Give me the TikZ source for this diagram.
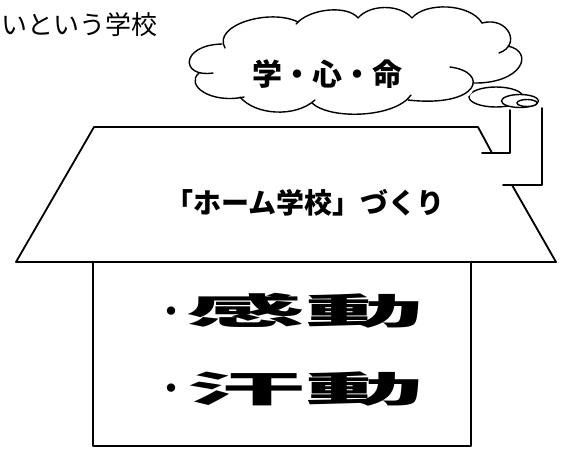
\documentclass[tikz,border=0pt]{standalone}
\usepackage{fontspec}
\usepackage{graphicx}
\newfontfamily\jp{Noto Sans CJK JP}
\tikzset{
  roofline/.style={line width=1.8pt, line cap=round, line join=round},
  cloudline/.style={line width=1.4pt, line cap=round},
  bubble/.style={line width=1.4pt, fill=white},
  bigtext/.style={font=\jp\bfseries\fontsize{36}{36}\selectfont, anchor=west, inner sep=0pt},
}
\newcommand{\smalldot}{\raisebox{2.5pt}{\fontsize{30}{30}\selectfont ・}}
\begin{document}
\begin{tikzpicture}[x=1pt,y=-1pt]
\useasboundingbox (0,0) rectangle (563,448);
\fill[white] (0,0) rectangle (563,448);

% intro text
\node[font=\jp\fontsize{26}{26}\selectfont, anchor=west, inner sep=0pt] (intro) at (1,24.5) {いという学校};

% smoke bubble behind the cloud
\draw[bubble] (496,97) ellipse [x radius=27, y radius=10];

% cloud fill
\fill[white] (199,73) .. controls (180,78) and (180,45) .. (222,44)
  .. controls (212,25) and (270,8) .. (298,22)
  .. controls (310,8) and (348,5) .. (358,18)
  .. controls (370,4) and (400,4) .. (412,18)
  .. controls (425,2) and (470,3) .. (482,23)
  .. controls (505,18) and (518,32) .. (508,47)
  .. controls (535,52) and (522,84) .. (473,83)
  .. controls (478,100) and (455,104) .. (408,100)
  .. controls (395,118) and (330,120) .. (312,103)
  .. controls (295,118) and (255,115) .. (240,97)
  .. controls (210,104) and (185,85) .. (199,73) -- cycle;

% cloud lobes
\draw[cloudline] (213,73) .. controls (180,78) and (180,45) .. (222,44);
\draw[cloudline] (225,48) .. controls (212,25) and (270,8) .. (298,22);
\draw[cloudline] (296,24) .. controls (310,8) and (348,5) .. (358,18);
\draw[cloudline] (358,18) .. controls (370,4) and (400,4) .. (412,18);
\draw[cloudline] (412,18) .. controls (425,2) and (470,3) .. (482,23);
\draw[cloudline] (482,23) .. controls (508,16) and (522,45) .. (499,53);
\draw[cloudline] (508,46) .. controls (535,52) and (522,84) .. (473,83);
\draw[cloudline] (450,67) .. controls (490,72) and (480,108) .. (408,100);
\draw[cloudline] (411,95) .. controls (395,118) and (330,120) .. (312,103);
\draw[cloudline] (315,100) .. controls (295,118) and (255,115) .. (240,97);
\draw[cloudline] (244,97) .. controls (210,104) and (185,85) .. (199,73);

\node[font=\jp\bfseries\fontsize{30}{30}\selectfont, inner sep=0pt] (cloudtext) at (327,74) {学・心・命};

% smaller bubbles
\draw[bubble] (520,101) ellipse [x radius=18.5, y radius=6.5];
\draw[bubble] (527,103) ellipse [x radius=10, y radius=3.5];

% roof
\draw[roofline] (492,153) -- (478,127) -- (94,127) -- (16,262) -- (556,262) -- (512,185);
\draw[roofline] (482,153) -- (510,153) -- (510,110);
\draw[roofline] (503,185) -- (542,185) -- (542,108);

\node[font=\jp\bfseries\fontsize{28}{28}\selectfont, inner sep=0pt] (rooftext) at (305,203) {「ホーム学校」づくり};

% house body
\draw[roofline] (93,262) -- (93,446) -- (471,446) -- (471,262);

\node[bigtext] (kando) at (156,311) {\smalldot\scalebox{3.3}[1]{感動}};
\node[bigtext] (kando2) at (156,389) {\smalldot\scalebox{3.3}[1]{汗動}};
\end{tikzpicture}
\end{document}
